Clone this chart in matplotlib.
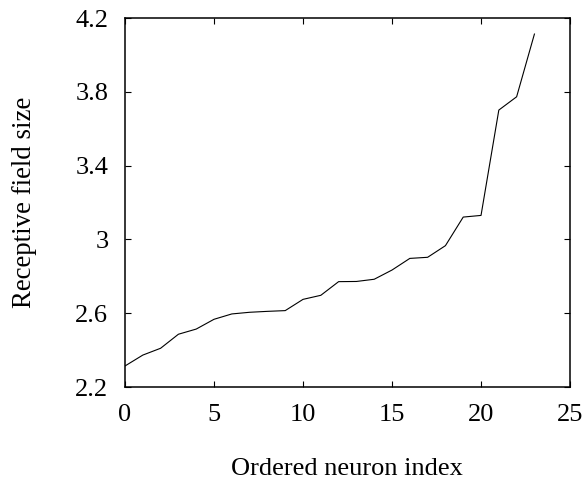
import matplotlib
matplotlib.use("Agg")
import matplotlib.pyplot as plt
import numpy as np

# ordered receptive field sizes
neuron_index = list(range(24))
field_size = [2.314, 2.373, 2.41, 2.486, 2.514, 2.567, 2.596, 2.605, 2.61, 2.614,
              2.675, 2.697, 2.771, 2.772, 2.784, 2.834, 2.897, 2.903, 2.966, 3.121,
              3.13, 3.701, 3.773, 4.113]
x_ticks = [0, 5, 10, 15, 20, 25]
y_ticks = [2.2, 2.6, 3.0, 3.4, 3.8, 4.2]
y_tick_labels = ["2.2", "2.6", "3", "3.4", "3.8", "4.2"]

plt.rcParams['font.family'] = ['Liberation Serif', 'DejaVu Serif']
plt.rcParams['font.size'] = 19

fig = plt.figure(figsize=(5.85, 4.8), dpi=100)
ax = fig.add_axes([0.2137, 0.19375, 0.7607, 0.76875])

ax.plot(neuron_index, field_size, color='black', linewidth=0.8)

ax.set_xlim(0, 25)
ax.set_ylim(2.2, 4.2)
ax.set_xticks(x_ticks)
ax.set_yticks(y_ticks)
ax.set_yticklabels(y_tick_labels)

ax.tick_params(direction='in', top=True, right=True, length=4.5, width=0.8)
ax.tick_params(axis='x', pad=12)
ax.tick_params(axis='y', pad=12)
for s in ax.spines.values():
    s.set_linewidth(1.1)

ax.set_xlabel('Ordered neuron index', labelpad=0, fontsize=19)
ax.set_ylabel('Receptive field size', labelpad=0, fontsize=19.4)
ax.xaxis.set_label_coords(0.498, -0.222)
ax.yaxis.set_label_coords(-0.225, 0.5)
ax.xaxis.label.set_va('center')
ax.yaxis.label.set_va('center')

fig.savefig('out.png', dpi=100)
